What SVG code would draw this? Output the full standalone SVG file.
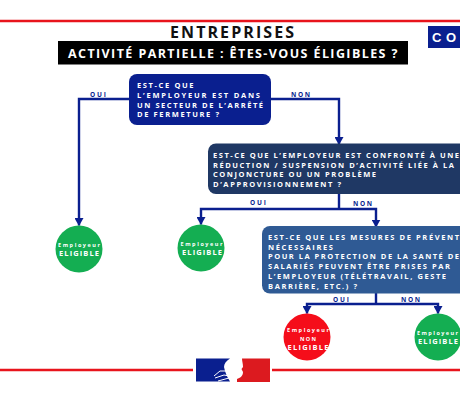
<svg xmlns="http://www.w3.org/2000/svg" width="460" height="400" viewBox="0 0 460 400">
<style>
text{font-family:"Open Sans","Liberation Sans",sans-serif;font-weight:700}
.q{fill:#fff;font-size:7.500px}
.l{fill:#0a1f8f;font-size:6.500px}
.w{fill:none;stroke:#0a1f8f;stroke-width:2.400}
.e{fill:#fff;font-size:5.500px}
.b{fill:#fff;font-size:7.500px}
.r{stroke:#e8141c;stroke-width:2.600}
</style>
<defs>
<marker id="a" markerUnits="userSpaceOnUse" markerWidth="8" markerHeight="9" refX="7.500" refY="4.500" orient="auto" viewBox="0 0 8 9"><path d="M0 0L8 4.500L0 9Z" fill="#0a1f8f"/></marker>
</defs>
<rect width="460" height="400" fill="#fff"/>
<g id="decor">
<line class="r" x1="0" y1="21" x2="460" y2="21"/>
<line class="r" x1="0" y1="370" x2="193" y2="370"/>
<line class="r" x1="272" y1="370" x2="460" y2="370"/>
<path d="M196 358.500H230C226 361 224 364 224 367C225 372 227 377 230 381.500H196Z" fill="#0a1f8f"/>
<path d="M214 376L220 371L229 371M215 378L224 375L229 376M218 381L229 378" fill="none" stroke="#fff" stroke-width="1"/>
<path d="M242 358.500H270V382H237L237 379C240 378 243 376 243 372L241.500 369L243 367C243 364 242 361 242 358.500Z" fill="#dc1a1f"/>
</g>
<g id="title">
<text x="170" y="37.500" font-size="16" fill="#111" textLength="124" lengthAdjust="spacing">ENTREPRISES</text>
</g>
<g id="subtitle">
<rect x="58" y="41" width="350" height="23.500" fill="#000"/>
<text x="68" y="57.500" font-size="12.500" fill="#fff" textLength="329.500" lengthAdjust="spacing">ACTIVITÉ PARTIELLE : ÊTES-VOUS ÉLIGIBLES ?</text>
</g>
<g id="cornerTag">
<rect x="428" y="26" width="32" height="22" fill="#0a1f8f"/>
<text x="432" y="42" font-size="13" letter-spacing="4.500" fill="#fff" style="font-family:'Liberation Sans',sans-serif">CO</text>
</g>
<g id="connectors">
<path class="w" d="M129 99H79V225.500" marker-end="url(#a)"/>
<path class="w" d="M271 99H339V144.500" marker-end="url(#a)"/>
<path class="w" d="M339 194V209"/>
<path class="w" d="M339 209H201V224.500" marker-end="url(#a)"/>
<path class="w" d="M339 209H376V227" marker-end="url(#a)"/>
<path class="w" d="M376 293V304"/>
<path class="w" d="M376 304H307V313.500" marker-end="url(#a)"/>
<path class="w" d="M376 304H438V313.500" marker-end="url(#a)"/>
<text class="l" x="90" y="96.500" textLength="16" lengthAdjust="spacing">OUI</text>
<text class="l" x="291" y="96.500" textLength="19" lengthAdjust="spacing">NON</text>
<text class="l" x="250" y="205" textLength="16" lengthAdjust="spacing">OUI</text>
<text class="l" x="353" y="206" textLength="19" lengthAdjust="spacing">NON</text>
<text class="l" x="333" y="302" textLength="16" lengthAdjust="spacing">OUI</text>
<text class="l" x="401" y="302" textLength="19" lengthAdjust="spacing">NON</text>
</g>
<g id="q1">
<rect x="129" y="74" width="142" height="51" rx="8" fill="#0a1f8f"/>
<text class="q" x="137" y="87.500" textLength="56.500" lengthAdjust="spacing">EST-CE QUE</text>
<text class="q" x="137" y="97.500" textLength="123" lengthAdjust="spacing">L’EMPLOYEUR EST DANS</text>
<text class="q" x="137" y="107.500" textLength="126" lengthAdjust="spacing">UN SECTEUR DE L’ARRÊTÉ</text>
<text class="q" x="137" y="117" textLength="82" lengthAdjust="spacing">DE FERMETURE ?</text>
</g>
<g id="q2">
<path d="M460 143.500H216a8 8 0 0 0-8 8V186a8 8 0 0 0 8 8H460Z" fill="#1f3864"/>
<text class="q" x="213" y="157.500" textLength="246" lengthAdjust="spacing">EST-CE QUE L’EMPLOYEUR EST CONFRONTÉ À UNE</text>
<text class="q" x="213" y="167.500" textLength="241" lengthAdjust="spacing">RÉDUCTION / SUSPENSION D’ACTIVITÉ LIÉE À LA</text>
<text class="q" x="213" y="177" textLength="163" lengthAdjust="spacing">CONJONCTURE OU UN PROBLÈME</text>
<text class="q" x="213" y="187" textLength="128" lengthAdjust="spacing">D’APPROVISIONNEMENT ?</text>
</g>
<g id="q3">
<path d="M460 226H270a8 8 0 0 0-8 8V285.500a8 8 0 0 0 8 8H460Z" fill="#2f5a94"/>
<text class="q" x="268" y="239.500" textLength="191" lengthAdjust="spacing">EST-CE QUE LES MESURES DE PRÉVENT</text>
<text class="q" x="268" y="249.500" textLength="65" lengthAdjust="spacing">NÉCESSAIRES</text>
<text class="q" x="268" y="259" textLength="191" lengthAdjust="spacing">POUR LA PROTECTION DE LA SANTÉ DE</text>
<text class="q" x="268" y="269" textLength="182" lengthAdjust="spacing">SALARIÉS PEUVENT ÊTRE PRISES PAR</text>
<text class="q" x="268" y="279" textLength="178" lengthAdjust="spacing">L’EMPLOYEUR (TÉLÉTRAVAIL, GESTE</text>
<text class="q" x="268" y="288.500" textLength="89" lengthAdjust="spacing">BARRIÈRE, ETC.) ?</text>
</g>
<g id="e1">
<circle cx="79" cy="249" r="23.500" fill="#14ae52"/>
<text class="e" x="58" y="247" textLength="42" lengthAdjust="spacing">Employeur</text>
<text class="b" x="59" y="256" textLength="40" lengthAdjust="spacing">ELIGIBLE</text>
</g>
<g id="e2">
<circle cx="201" cy="248" r="23.500" fill="#14ae52"/>
<text class="e" x="180.500" y="246" textLength="42" lengthAdjust="spacing">Employeur</text>
<text class="b" x="182" y="255" textLength="40" lengthAdjust="spacing">ELIGIBLE</text>
</g>
<g id="e3">
<circle cx="307" cy="337" r="23.500" fill="#f50d1a"/>
<text class="e" x="287" y="332" textLength="42" lengthAdjust="spacing">Employeur</text>
<text class="e" x="300" y="340.500" textLength="16" lengthAdjust="spacing">NON</text>
<text class="b" x="287.500" y="350" textLength="41" lengthAdjust="spacing">ELIGIBLE</text>
</g>
<g id="e4">
<circle cx="438" cy="337" r="23.500" fill="#14ae52"/>
<text class="e" x="417" y="335" textLength="41" lengthAdjust="spacing">Employeur</text>
<text class="b" x="418" y="344" textLength="40" lengthAdjust="spacing">ELIGIBLE</text>
</g>
</svg>
